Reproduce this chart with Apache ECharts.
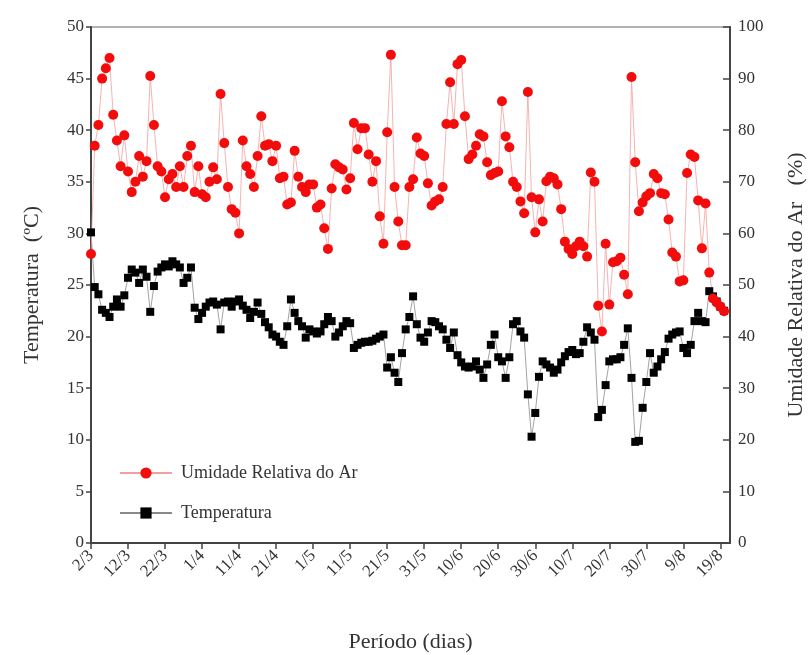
<!DOCTYPE html>
<html>
<head>
<meta charset="utf-8">
<script src="https://cdn.jsdelivr.net/npm/echarts@6/dist/echarts.min.js"></script>
<style>
  html, body { margin: 0; padding: 0; background: #fff; }
  #chart { width: 811px; height: 655px; }
</style>
</head>
<body>
<div id="chart"></div>
<script>
// tick labels every 10 days, starting 2/3
const tickLabels = ['2/3', '12/3', '22/3', '1/4', '11/4', '21/4', '1/5', '11/5', '21/5',
  '31/5', '10/6', '20/6', '30/6', '10/7', '20/7', '30/7', '9/8', '19/8']

// daily relative humidity (%)
const umidade = [
  56, 77, 81, 90, 92, 94, 83, 78, 73, 79,
  72, 68, 70, 75, 71, 74, 90.5, 81, 73, 72,
  67, 70.5, 71.5, 69, 73, 69, 75, 77, 68, 73,
  67.6, 67, 70, 72.8, 70.5, 87, 77.5, 69, 64.7, 64,
  60, 78, 73, 71.5, 69, 75, 82.7, 77, 77.3, 74,
  77, 70.7, 71, 65.6, 66, 76, 71, 69, 68, 69.5,
  69.5, 65, 65.6, 61, 57, 68.7, 73.4, 72.8, 72.4, 68.5,
  70.7, 81.4, 76.3, 80.4, 80.4, 75.3, 70, 74, 63.3, 58,
  79.6, 94.6, 69, 62.3, 57.7, 57.7, 69, 70.5, 78.6, 75.5,
  75, 69.7, 65.4, 66.2, 66.6, 69, 81.2, 89.3, 81.2, 92.8,
  93.6, 82.7, 74.4, 75.3, 77, 79.2, 78.8, 73.8, 71.3, 71.7,
  72, 85.6, 78.8, 76.7, 70, 69, 66.2, 63.9, 87.4, 67,
  60.2, 66.6, 62.3, 70.1, 71, 70.7, 69.5, 64.7, 58.4, 57,
  56, 57.5, 58.4, 57.5, 55.5, 71.8, 70, 46, 41, 58,
  46.2, 54.4, 54.6, 55.3, 52, 48.2, 90.3, 73.8, 64.3, 66,
  67.2, 67.8, 71.5, 70.7, 67.8, 67.6, 62.7, 56.3, 55.5, 50.7,
  50.9, 71.7, 75.3, 74.8, 66.4, 57.1, 65.8, 52.4, 47.4, 46.6,
  45.8, 44.9
]

// daily temperature (°C)
const temperatura = [
  30.1, 24.8, 24.1, 22.6, 22.3, 21.9, 22.9, 23.6, 22.9, 24,
  25.7, 26.5, 26.2, 25.2, 26.5, 25.8, 22.4, 24.9, 26.3, 26.7,
  27, 26.8, 27.3, 27, 26.7, 25.2, 25.7, 26.7, 22.8, 21.7,
  22.3, 22.9, 23.3, 23.4, 23.1, 20.7, 23.3, 23.4, 22.9, 23.4,
  23.6, 23, 22.6, 21.8, 22.4, 23.3, 22.2, 21.4, 20.9, 20.2,
  20, 19.5, 19.2, 21, 23.6, 22.3, 21.5, 21, 19.9, 20.7,
  20.5, 20.3, 20.5, 21.2, 21.9, 21.5, 20, 20.4, 21, 21.5,
  21.3, 18.9, 19.2, 19.4, 19.5, 19.5, 19.6, 19.8, 20, 20.2,
  17, 18, 16.5, 15.6, 18.4, 20.7, 21.9, 23.9, 21.2, 19.9,
  19.5, 20.4, 21.5, 21.4, 21, 20.7, 19.7, 18.9, 20.4, 18.2,
  17.5, 17.1, 17, 17.1, 17.6, 16.8, 16, 17.3, 19.2, 20.2,
  18, 17.6, 16, 18, 21.2, 21.5, 20.5, 19.9, 14.4, 10.3,
  12.6, 16.1, 17.6, 17.3, 17, 16.5, 16.8, 17.5, 18.1, 18.5,
  18.7, 18.3, 18.4, 19.5, 20.9, 20.4, 19.7, 12.2, 12.9, 15.3,
  17.6, 17.8, 17.8, 18, 19.2, 20.8, 16, 9.8, 9.9, 13.1,
  15.6, 18.4, 16.5, 17.1, 17.8, 18.5, 19.8, 20.2, 20.4, 20.5,
  18.9, 18.4, 19.2, 21.5, 22.3, 21.5, 21.4, 24.4, 23.9, 23.4,
  22.9, 22.5
]

const serif = "'Liberation Serif', 'Times New Roman', serif"
const axisColor = '#444'

const myChart = echarts.init(document.getElementById('chart'))
const option = {
  backgroundColor: '#fff',
  animation: false,
  textStyle: { fontFamily: serif },
  grid: {
    left: 91, right: 81, top: 27, bottom: 112,
    outerBoundsMode: 'none',
    show: true, borderColor: '#999', borderWidth: 1.5
  },
  legend: {
    orient: 'vertical',
    left: 114, top: 459,
    itemWidth: 52, itemHeight: 14, itemGap: 22,
    data: ['Umidade Relativa do Ar', 'Temperatura'],
    textStyle: { fontFamily: serif, fontSize: 18, color: '#333', padding: [0, 0, 0, 4] }
  },
  xAxis: {
    type: 'value',
    min: 0, max: 172.6, interval: 10,
    name: 'Período (dias)',
    nameLocation: 'middle', nameGap: 88,
    nameTextStyle: { fontFamily: serif, fontSize: 22, color: '#333' },
    axisLine: { lineStyle: { color: axisColor, width: 2 } },
    axisTick: { length: 6, lineStyle: { color: axisColor, width: 1.5 } },
    axisLabel: {
      rotate: 45, fontSize: 17, color: '#333', margin: 10, fontFamily: serif,
      showMaxLabel: false,
      formatter: v => (v % 10 === 0 && tickLabels[v / 10]) ? tickLabels[v / 10] : ''
    },
    splitLine: { show: false }
  },
  yAxis: [
    {
      type: 'value', min: 0, max: 50, interval: 5,
      name: 'Temperatura  (ºC)',
      nameLocation: 'middle', nameGap: 48, nameRotate: 90,
      nameTextStyle: { fontFamily: serif, fontSize: 22, color: '#333' },
      axisLine: { show: true, lineStyle: { color: axisColor, width: 2 } },
      axisTick: { show: true, length: 5, lineStyle: { color: axisColor, width: 1.5 } },
      axisLabel: { fontSize: 17, color: '#333', margin: 7, fontFamily: serif },
      splitLine: { show: false }
    },
    {
      type: 'value', min: 0, max: 100, interval: 10,
      position: 'right',
      name: 'Umidade Relativa do Ar   (%)',
      nameLocation: 'middle', nameGap: 55, nameRotate: 90,
      nameTextStyle: { fontFamily: serif, fontSize: 22, color: '#333' },
      axisLine: { show: true, lineStyle: { color: axisColor, width: 2 } },
      axisTick: { show: true, inside: true, length: 7, lineStyle: { color: axisColor, width: 1.5 } },
      axisLabel: { fontSize: 17, color: '#333', margin: 8, fontFamily: serif },
      splitLine: { show: false }
    }
  ],
  series: [
    {
      name: 'Temperatura',
      type: 'line',
      yAxisIndex: 0,
      data: temperatura.map((v, i) => [i, v]),
      symbol: 'rect', symbolSize: 8,
      itemStyle: { color: '#000' },
      lineStyle: { color: '#8a8a8a', width: 0.8 }
    },
    {
      name: 'Umidade Relativa do Ar',
      type: 'line',
      yAxisIndex: 1,
      data: umidade.map((v, i) => [i, v]),
      symbol: 'circle', symbolSize: 10,
      itemStyle: { color: '#f20c0c' },
      lineStyle: { color: '#f3a0a0', width: 0.8 }
    }
  ]
}
myChart.setOption(option)
</script>
</body>
</html>
